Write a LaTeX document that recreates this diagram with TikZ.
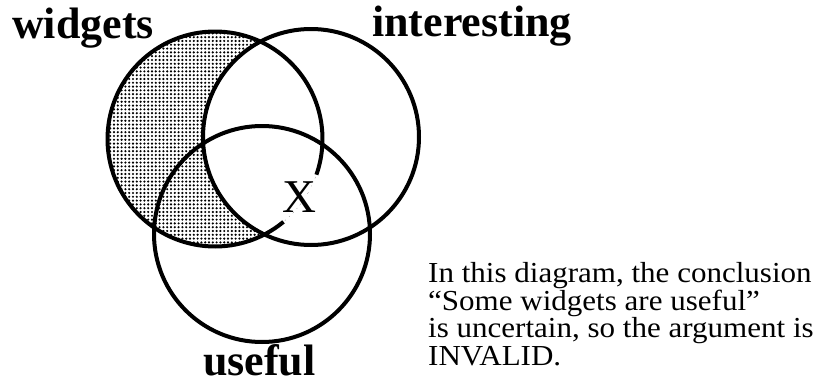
\documentclass[tikz,border=0pt]{standalone}
\usepackage{fontspec}
\setmainfont{Liberation Serif}
\newfontfamily\bodyfont[FakeStretch=1.07]{Liberation Serif}
\usetikzlibrary{patterns.meta}
\begin{document}
\begin{tikzpicture}[x=1pt,y=-1pt,
  ring/.style={line width=4pt},
  setlabel/.style={font=\fontsize{44}{44}\selectfont\bfseries, inner sep=0pt, anchor=base west},
  bodyline/.style={font=\bodyfont\fontsize{29}{28}\selectfont, inner sep=0pt, anchor=base west},
  xlabel/.style={font=\fontsize{47}{47}\selectfont, inner sep=0pt}
]
\useasboundingbox (0,0) rectangle (817,383);
% shaded region: widgets minus interesting
\begin{scope}
  \clip (215,139) circle (107.5);
  \fill[pattern={Dots[distance=3.8pt,radius=1.2pt]}, even odd rule]
    (215,139) circle (107.5) (311,137) circle (108);
\end{scope}
% circles
\draw[ring] (311,137) circle (108);
\draw[ring] (262,234) circle (108);
\draw[ring] (215,139) ++(50.4:107.5) arc[start angle=50.4, end angle=379.4, radius=107.5];
% labels
\node[setlabel] (widgets) at (12,38) {widgets};
\node[setlabel] (interesting) at (372,36) {interesting};
\node[setlabel] (useful) at (203,375) {useful};
\node[xlabel] (x) at (299,197) {X};
% text
\node[bodyline] (t1) at (428,282) {In this diagram, the conclusion};
\node[bodyline] (t2) at (428,310) {“Some widgets are useful”};
\node[bodyline] (t3) at (428,337) {is uncertain, so the argument is};
\node[bodyline] (t4) at (428,365) {INVALID.};
\end{tikzpicture}
\end{document}
